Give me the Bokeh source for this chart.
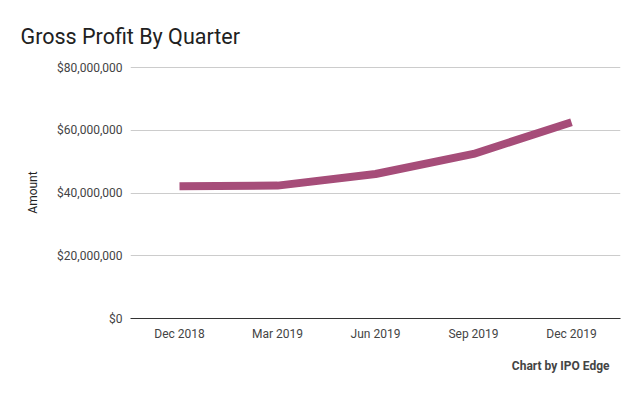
from bokeh.plotting import figure
from bokeh.models import Range1d, FactorRange, NumeralTickFormatter, Title, ColumnDataSource
from bokeh.embed import file_html
from bokeh.resources import INLINE

quarters = ["Dec 2018", "Mar 2019", "Jun 2019", "Sep 2019", "Dec 2019"]
gross_profit = [42.2e6, 42.4e6, 46.1e6, 52.5e6, 62.6e6]
y_ticks = [0, 20e6, 40e6, 60e6, 80e6]

FONT = "Roboto"
W, H = 632, 388

src = ColumnDataSource(dict(q=quarters, v=gross_profit))

p = figure(width=W, height=H, output_backend="svg", toolbar_location=None,
           x_range=FactorRange(*quarters), y_range=Range1d(0, 80.4e6),
           min_border_left=130, min_border_right=12, min_border_top=66, min_border_bottom=70)
p.outline_line_color = None
p.background_fill_color = "white"
p.border_fill_color = "white"

p.line("q", "v", source=src, line_color="#a64d79", line_width=8)

p.yaxis.ticker = y_ticks
p.yaxis.formatter = NumeralTickFormatter(format="$0,0")
p.yaxis.axis_line_color = None
p.yaxis.major_tick_line_color = None
p.yaxis.minor_tick_line_color = None
p.yaxis.major_tick_out = 0
p.yaxis.major_tick_in = 0
p.yaxis.major_label_text_font = FONT
p.yaxis.major_label_text_font_size = "12px"
p.yaxis.major_label_text_color = "#444444"
p.yaxis.major_label_standoff = 8
p.yaxis.axis_label = "Amount"
p.yaxis.axis_label_text_font = FONT
p.yaxis.axis_label_text_font_size = "12px"
p.yaxis.axis_label_text_font_style = "normal"
p.yaxis.axis_label_text_color = "#222222"
p.yaxis.axis_label_standoff = 14

p.xaxis.axis_line_color = "#333333"
p.xaxis.axis_line_width = 1
p.xaxis.major_tick_line_color = None
p.xaxis.minor_tick_line_color = None
p.xaxis.major_tick_out = 0
p.xaxis.major_tick_in = 0
p.xaxis.major_label_text_font = FONT
p.xaxis.major_label_text_font_size = "12px"
p.xaxis.major_label_text_color = "#444444"
p.xaxis.major_label_standoff = 8

p.xgrid.grid_line_color = None
p.ygrid.grid_line_color = "#cccccc"
p.ygrid.grid_line_width = 1

p.title.text = "Gross Profit By Quarter"
p.title.align = "left"
p.title.offset = -110
p.title.text_font = FONT
p.title.text_font_size = "21.5px"
p.title.text_font_style = "normal"
p.title.text_color = "#212121"
p.title.standoff = 36

footer = Title(text="Chart by IPO Edge", align="right", offset=11,
               text_font=FONT, text_font_size="12px", text_font_style="bold",
               text_color="#444444", standoff=27)
p.add_layout(footer, "below")

open("out.html", "w").write(file_html(p, INLINE))
